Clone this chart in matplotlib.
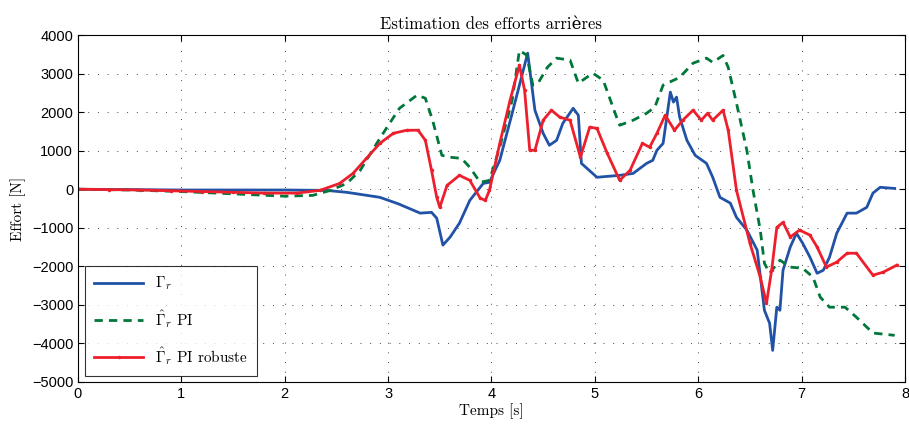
# Estimation des efforts arrières - trois estimateurs comparés
import matplotlib
matplotlib.use("Agg")
import matplotlib.pyplot as plt

# Gamma_r (mesure)
t_gam = [0, 0.5, 1.0, 1.5, 2.0, 2.4, 2.6, 2.92, 3.1, 3.31, 3.42, 3.47, 3.53, 3.6, 3.69, 3.79,
         3.92, 3.98, 4.08, 4.2, 4.35, 4.42, 4.5, 4.56, 4.63, 4.69, 4.79, 4.84, 4.87, 5.02,
         5.24, 5.37, 5.5, 5.56, 5.6, 5.66, 5.73, 5.76, 5.79, 5.82, 5.89, 5.97, 6.08, 6.14,
         6.21, 6.31, 6.37, 6.47, 6.57, 6.64, 6.69, 6.72, 6.76, 6.79, 6.82, 6.89, 6.95, 7.01,
         7.08, 7.15, 7.21, 7.27, 7.34, 7.44, 7.53, 7.63, 7.69, 7.76, 7.9]
gam = [0, -10, -20, -20, -20, -30, -80, -210, -380, -620, -600, -750, -1450, -1240, -880, -290,
       150, 180, 750, 1970, 3530, 2050, 1450, 1140, 1270, 1710, 2100, 1920, 670, 310,
       360, 410, 670, 750, 1010, 1190, 2520, 2260, 2390, 1870, 1270, 880, 670, 310,
       -210, -360, -730, -1060, -1580, -3140, -3475, -4180, -3060, -3140, -2100, -1500, -1140, -1400,
       -1760, -2180, -2100, -1760, -1140, -620, -620, -470, -100, 50, 20]

# estimation PI
t_pi = [0, 0.5, 1.0, 1.5, 2.0, 2.27, 2.44, 2.6, 2.73, 2.89, 2.99, 3.11, 3.28, 3.36, 3.43, 3.52,
        3.6, 3.71, 3.79, 3.89, 3.98, 4.08, 4.2, 4.27, 4.34, 4.4, 4.45, 4.54, 4.63, 4.76, 4.84,
        4.98, 5.08, 5.21, 5.24, 5.37, 5.5, 5.58, 5.66, 5.82, 5.95, 6.08, 6.14, 6.24, 6.29,
        6.37, 6.47, 6.53, 6.6, 6.64, 6.69, 6.79, 6.89, 7.01, 7.11, 7.18, 7.27, 7.42, 7.53, 7.69, 7.9]
pi = [0, -20, -60, -120, -180, -160, -30, 150, 490, 1190, 1610, 2100, 2440, 2360, 1790, 880,
      830, 800, 570, 180, 230, 1090, 2310, 3600, 3480, 2700, 2750, 3160, 3400, 3350, 2750,
      3010, 2830, 1870, 1660, 1790, 1970, 2130, 2700, 2900, 3270, 3400, 3290, 3470, 3160,
      2230, 1010, -30, -1060, -1920, -2180, -1840, -2020, -2050, -2280, -2800, -3060, -3060, -3320, -3730, -3790]

# estimation PI robuste
t_rob = [0, 0.3, 0.6, 0.9, 1.2, 1.5, 1.8, 2.12, 2.34, 2.53, 2.66, 2.79, 2.92, 3.05, 3.18, 3.29,
         3.36, 3.42, 3.47, 3.5, 3.57, 3.69, 3.79, 3.89, 3.94, 3.98, 4.08, 4.18, 4.27, 4.32,
         4.37, 4.42, 4.5, 4.58, 4.66, 4.76, 4.86, 4.95, 5.02, 5.12, 5.24, 5.34, 5.46, 5.53,
         5.6, 5.68, 5.77, 5.85, 5.95, 6.03, 6.09, 6.14, 6.24, 6.29, 6.37, 6.5, 6.6, 6.66,
         6.71, 6.76, 6.82, 6.89, 6.98, 7.08, 7.15, 7.24, 7.34, 7.44, 7.53, 7.69, 7.79, 7.92]
rob = [0, -10, -20, -40, -60, -80, -100, -100, -30, 150, 410, 800, 1190, 1450, 1530, 1530,
       1270, 490, -210, -470, 100, 360, 230, -230, -290, -30, 1190, 2310, 3220, 2570,
       1010, 1010, 1790, 2050, 1870, 1790, 830, 1610, 1580, 930, 230, 490, 1190, 1090,
       1450, 1920, 1530, 1790, 2050, 1790, 1970, 1790, 2050, 1530, -30, -1400, -2280, -2960,
       -2100, -990, -860, -1240, -1060, -1190, -1500, -2020, -1890, -1660, -1660, -2230, -2150, -1970]

plt.rcParams.update({"font.family": ["Liberation Sans", "DejaVu Sans"], "font.size": 10.5,
                     "mathtext.fontset": "cm", "axes.linewidth": 0.8,
                     "xtick.direction": "in", "ytick.direction": "in",
                     "xtick.top": True, "ytick.right": True})
serif = ["cmr10", "DejaVu Serif"]

fig = plt.figure(figsize=(9.09, 4.25), dpi=100)
ax = fig.add_axes([0.0858, 0.1012, 0.9098, 0.8164])

ax.plot(t_gam, gam, "-", color="#2152a6", linewidth=2.0, label=r"$\Gamma_r$")
ax.plot(t_pi, pi, "--", color="#00773a", linewidth=2.0, dashes=(3, 2.2), label=r"$\hat{\Gamma}_r$ PI")
ax.plot(t_rob, rob, "-", color="#ee1f2d", linewidth=2.0, marker=".", markersize=3,
        label=r"$\hat{\Gamma}_r$ PI robuste")

ax.set_xlim(0, 8)
ax.set_ylim(-5000, 4000)
ax.set_xticks(range(0, 9))
ax.set_yticks(range(-5000, 4001, 1000))
ax.set_yticklabels([str(v).replace("-", "\u2212") for v in range(-5000, 4001, 1000)])
ax.grid(True, linestyle=(0, (1, 9)), color="#444444", linewidth=0.7)
ax.tick_params(length=4, width=0.8)

ax.set_title("Estimation des efforts arrières", family=serif, fontsize=12, pad=4)
ax.set_xlabel("Temps [s]", family=serif, fontsize=11, labelpad=2)
ax.set_ylabel("Effort [N]", family=serif, fontsize=11, labelpad=4)

leg = ax.legend(loc="lower left", frameon=True, fancybox=False, handlelength=3.2,
                borderpad=0.6, labelspacing=1.0, borderaxespad=0,
                bbox_to_anchor=(0.0085, 0.017), prop={"family": "serif", "size": 11})
leg.get_frame().set_edgecolor("black")
leg.get_frame().set_linewidth(0.8)
for txt in leg.get_texts():
    txt.set_fontfamily(serif)

fig.savefig("out.png", dpi=100)
